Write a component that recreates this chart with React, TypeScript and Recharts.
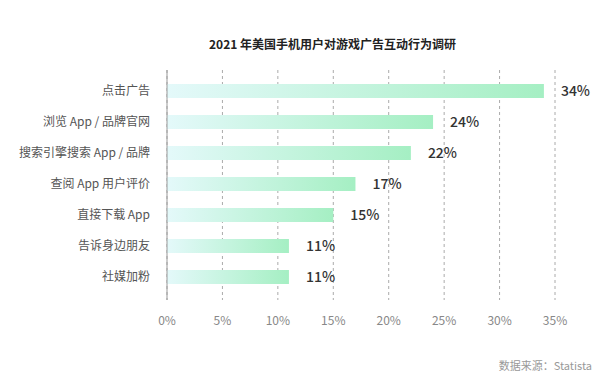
import React from 'react';
import { BarChart, Bar, XAxis, YAxis, CartesianGrid, LabelList } from 'recharts';

const categories = ['点击广告', '浏览 App / 品牌官网', '搜索引擎搜索 App / 品牌', '查阅 App 用户评价', '直接下载 App', '告诉身边朋友', '社媒加粉'];
const shares = [34, 24, 22, 17, 15, 11, 11];
const xTicks = [0, 5, 10, 15, 20, 25, 30, 35];

const data = categories.map((name, i) => ({ name, value: shares[i] }));

const font = '"Noto Sans CJK SC", "Noto Sans", sans-serif';

const CategoryTick = (props: any) => {
  const { x, y, payload } = props;
  return (
    <text x={x - 15} y={y} dy={4} textAnchor="end" fill="#555" fontSize={12} fontFamily={font}>
      {payload.value}
    </text>
  );
};

export default function App() {
  return (
    <div style={{ position: 'fixed', left: 0, top: 0, width: 615, height: 384, background: '#fff', fontFamily: font }}>
      <div style={{ position: 'absolute', top: 35, left: 0, width: 615, textAlign: 'center', paddingLeft: 50, boxSizing: 'border-box', fontSize: 12, fontWeight: 700, color: '#222' }}>
        2021 年美国手机用户对游戏广告互动行为调研
      </div>
      <BarChart
        width={615}
        height={384}
        data={data}
        layout="vertical"
        margin={{ top: 70, right: 60, left: 0, bottom: 54 }}
        barSize={14}
      >
        <defs>
          <linearGradient id="barFill" x1="0" y1="0" x2="1" y2="0">
            <stop offset="0%" stopColor="#e4f9fa" />
            <stop offset="100%" stopColor="#a5efc3" />
          </linearGradient>
        </defs>
        <CartesianGrid horizontal={false} stroke="#aaa" strokeDasharray="3 3" />
        <XAxis
          type="number"
          domain={[0, 35]}
          ticks={xTicks}
          tickFormatter={(v) => `${v}%`}
          axisLine={false}
          tickLine={false}
          tickSize={0}
          tickMargin={16}
          height={30}
          tick={{ fill: '#888', fontSize: 12, fontFamily: font }}
        />
        <YAxis
          type="category"
          dataKey="name"
          width={167}
          axisLine={{ stroke: '#999' }}
          tickLine={false}
          tickSize={0}
          padding={{ top: 5, bottom: 8 }}
          tick={<CategoryTick />}
        />
        <Bar dataKey="value" fill="url(#barFill)" isAnimationActive={false}>
          <LabelList
            dataKey="value"
            position="right"
            offset={17}
            formatter={(v: number) => `${v}%`}
            style={{ fill: '#333', fontSize: 14, fontWeight: 500, fontFamily: font }}
          />
        </Bar>
      </BarChart>
      <div style={{ position: 'absolute', top: 357, right: 23, fontSize: 11, color: '#999' }}>数据来源：Statista</div>
    </div>
  );
}
